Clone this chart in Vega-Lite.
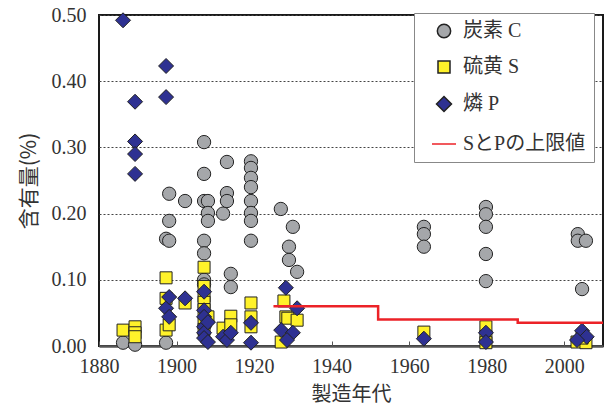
{
  "$schema": "https://vega.github.io/schema/vega-lite/v6.json",
  "width": 504,
  "height": 331,
  "autosize": {"type": "none"},
  "padding": {"left": 99, "top": 15, "right": 3, "bottom": 61},
  "background": "white",
  "config": {
    "view": {"stroke": "#1a1a1a", "strokeWidth": 2},
    "font": "Liberation Serif, Noto Sans CJK JP"
  },
  "datasets": {
    "points": [
      {"year": 1886.2, "value": 0.005, "series": "炭素 C"},
      {"year": 1889.3, "value": 0.002, "series": "炭素 C"},
      {"year": 1897.3, "value": 0.162, "series": "炭素 C"},
      {"year": 1897.3, "value": 0.005, "series": "炭素 C"},
      {"year": 1898.1, "value": 0.230, "series": "炭素 C"},
      {"year": 1898.1, "value": 0.189, "series": "炭素 C"},
      {"year": 1898.1, "value": 0.159, "series": "炭素 C"},
      {"year": 1902.2, "value": 0.219, "series": "炭素 C"},
      {"year": 1907.1, "value": 0.308, "series": "炭素 C"},
      {"year": 1907.1, "value": 0.260, "series": "炭素 C"},
      {"year": 1907.1, "value": 0.219, "series": "炭素 C"},
      {"year": 1907.1, "value": 0.159, "series": "炭素 C"},
      {"year": 1907.1, "value": 0.140, "series": "炭素 C"},
      {"year": 1907.1, "value": 0.100, "series": "炭素 C"},
      {"year": 1907.1, "value": 0.093, "series": "炭素 C"},
      {"year": 1908.1, "value": 0.219, "series": "炭素 C"},
      {"year": 1908.1, "value": 0.201, "series": "炭素 C"},
      {"year": 1908.1, "value": 0.189, "series": "炭素 C"},
      {"year": 1912.0, "value": 0.200, "series": "炭素 C"},
      {"year": 1913.0, "value": 0.278, "series": "炭素 C"},
      {"year": 1913.0, "value": 0.231, "series": "炭素 C"},
      {"year": 1913.0, "value": 0.219, "series": "炭素 C"},
      {"year": 1914.0, "value": 0.109, "series": "炭素 C"},
      {"year": 1914.0, "value": 0.089, "series": "炭素 C"},
      {"year": 1919.2, "value": 0.279, "series": "炭素 C"},
      {"year": 1919.2, "value": 0.269, "series": "炭素 C"},
      {"year": 1919.2, "value": 0.254, "series": "炭素 C"},
      {"year": 1919.2, "value": 0.240, "series": "炭素 C"},
      {"year": 1919.2, "value": 0.219, "series": "炭素 C"},
      {"year": 1919.2, "value": 0.201, "series": "炭素 C"},
      {"year": 1919.2, "value": 0.189, "series": "炭素 C"},
      {"year": 1919.2, "value": 0.159, "series": "炭素 C"},
      {"year": 1926.9, "value": 0.207, "series": "炭素 C"},
      {"year": 1930.0, "value": 0.180, "series": "炭素 C"},
      {"year": 1929.0, "value": 0.150, "series": "炭素 C"},
      {"year": 1929.0, "value": 0.130, "series": "炭素 C"},
      {"year": 1931.1, "value": 0.112, "series": "炭素 C"},
      {"year": 1963.8, "value": 0.180, "series": "炭素 C"},
      {"year": 1963.8, "value": 0.169, "series": "炭素 C"},
      {"year": 1963.8, "value": 0.150, "series": "炭素 C"},
      {"year": 1979.8, "value": 0.210, "series": "炭素 C"},
      {"year": 1979.8, "value": 0.199, "series": "炭素 C"},
      {"year": 1979.8, "value": 0.180, "series": "炭素 C"},
      {"year": 1979.8, "value": 0.139, "series": "炭素 C"},
      {"year": 1979.8, "value": 0.098, "series": "炭素 C"},
      {"year": 2003.5, "value": 0.169, "series": "炭素 C"},
      {"year": 2003.5, "value": 0.159, "series": "炭素 C"},
      {"year": 2005.6, "value": 0.159, "series": "炭素 C"},
      {"year": 2004.6, "value": 0.086, "series": "炭素 C"},
      {"year": 1886.2, "value": 0.024, "series": "硫黄 S"},
      {"year": 1889.3, "value": 0.029, "series": "硫黄 S"},
      {"year": 1889.3, "value": 0.020, "series": "硫黄 S"},
      {"year": 1889.3, "value": 0.014, "series": "硫黄 S"},
      {"year": 1897.3, "value": 0.103, "series": "硫黄 S"},
      {"year": 1897.3, "value": 0.072, "series": "硫黄 S"},
      {"year": 1897.3, "value": 0.024, "series": "硫黄 S"},
      {"year": 1898.1, "value": 0.032, "series": "硫黄 S"},
      {"year": 1902.2, "value": 0.065, "series": "硫黄 S"},
      {"year": 1907.1, "value": 0.119, "series": "硫黄 S"},
      {"year": 1907.1, "value": 0.090, "series": "硫黄 S"},
      {"year": 1907.1, "value": 0.075, "series": "硫黄 S"},
      {"year": 1907.1, "value": 0.066, "series": "硫黄 S"},
      {"year": 1907.1, "value": 0.055, "series": "硫黄 S"},
      {"year": 1907.1, "value": 0.035, "series": "硫黄 S"},
      {"year": 1907.1, "value": 0.025, "series": "硫黄 S"},
      {"year": 1908.1, "value": 0.044, "series": "硫黄 S"},
      {"year": 1912.0, "value": 0.027, "series": "硫黄 S"},
      {"year": 1914.0, "value": 0.045, "series": "硫黄 S"},
      {"year": 1914.0, "value": 0.032, "series": "硫黄 S"},
      {"year": 1919.2, "value": 0.065, "series": "硫黄 S"},
      {"year": 1919.2, "value": 0.044, "series": "硫黄 S"},
      {"year": 1919.2, "value": 0.029, "series": "硫黄 S"},
      {"year": 1927.7, "value": 0.068, "series": "硫黄 S"},
      {"year": 1928.2, "value": 0.044, "series": "硫黄 S"},
      {"year": 1928.7, "value": 0.042, "series": "硫黄 S"},
      {"year": 1931.1, "value": 0.039, "series": "硫黄 S"},
      {"year": 1927.0, "value": 0.006, "series": "硫黄 S"},
      {"year": 1963.8, "value": 0.021, "series": "硫黄 S"},
      {"year": 1979.8, "value": 0.029, "series": "硫黄 S"},
      {"year": 1979.8, "value": 0.014, "series": "硫黄 S"},
      {"year": 1979.8, "value": 0.005, "series": "硫黄 S"},
      {"year": 2003.3, "value": 0.006, "series": "硫黄 S"},
      {"year": 2005.6, "value": 0.005, "series": "硫黄 S"},
      {"year": 2004.6, "value": 0.012, "series": "硫黄 S"},
      {"year": 1886.2, "value": 0.492, "series": "燐 P"},
      {"year": 1889.3, "value": 0.369, "series": "燐 P"},
      {"year": 1889.3, "value": 0.309, "series": "燐 P"},
      {"year": 1889.3, "value": 0.290, "series": "燐 P"},
      {"year": 1889.3, "value": 0.260, "series": "燐 P"},
      {"year": 1897.3, "value": 0.423, "series": "燐 P"},
      {"year": 1897.3, "value": 0.376, "series": "燐 P"},
      {"year": 1897.3, "value": 0.057, "series": "燐 P"},
      {"year": 1898.1, "value": 0.074, "series": "燐 P"},
      {"year": 1898.1, "value": 0.044, "series": "燐 P"},
      {"year": 1902.2, "value": 0.072, "series": "燐 P"},
      {"year": 1907.1, "value": 0.082, "series": "燐 P"},
      {"year": 1907.1, "value": 0.054, "series": "燐 P"},
      {"year": 1907.1, "value": 0.044, "series": "燐 P"},
      {"year": 1907.1, "value": 0.029, "series": "燐 P"},
      {"year": 1907.1, "value": 0.020, "series": "燐 P"},
      {"year": 1907.1, "value": 0.012, "series": "燐 P"},
      {"year": 1908.1, "value": 0.036, "series": "燐 P"},
      {"year": 1908.1, "value": 0.006, "series": "燐 P"},
      {"year": 1912.0, "value": 0.014, "series": "燐 P"},
      {"year": 1913.0, "value": 0.009, "series": "燐 P"},
      {"year": 1914.0, "value": 0.020, "series": "燐 P"},
      {"year": 1919.2, "value": 0.035, "series": "燐 P"},
      {"year": 1919.2, "value": 0.005, "series": "燐 P"},
      {"year": 1928.2, "value": 0.088, "series": "燐 P"},
      {"year": 1931.1, "value": 0.057, "series": "燐 P"},
      {"year": 1927.0, "value": 0.024, "series": "燐 P"},
      {"year": 1930.0, "value": 0.020, "series": "燐 P"},
      {"year": 1928.5, "value": 0.009, "series": "燐 P"},
      {"year": 1963.8, "value": 0.011, "series": "燐 P"},
      {"year": 1979.8, "value": 0.020, "series": "燐 P"},
      {"year": 1979.8, "value": 0.006, "series": "燐 P"},
      {"year": 2004.6, "value": 0.023, "series": "燐 P"},
      {"year": 2005.8, "value": 0.014, "series": "燐 P"},
      {"year": 2003.3, "value": 0.009, "series": "燐 P"}
    ],
    "limit": [
      {"year": 1925, "value": 0.06},
      {"year": 1952, "value": 0.04},
      {"year": 1988, "value": 0.035},
      {"year": 2010, "value": 0.035}
    ]
  },
  "layer": [
    {
      "data": {"name": "points"},
      "mark": {"type": "point", "filled": true, "opacity": 1},
      "encoding": {
        "x": {
          "field": "year", "type": "quantitative",
          "scale": {"domain": [1880, 2010], "nice": false, "zero": false},
          "axis": {
            "title": "製造年代", "values": [1880, 1900, 1920, 1940, 1960, 1980, 2000],
            "format": "d", "grid": false, "tickSize": -5, "tickColor": "#555",
            "labelFontSize": 20, "labelPadding": 15, "labelFlush": false, "labelColor": "#333",
            "domainColor": "#555", "domainWidth": 2.5,
            "titleFontSize": 20, "titleFont": "Noto Sans CJK JP", "titleFontWeight": "normal",
            "titleColor": "#333", "titlePadding": 8
          }
        },
        "y": {
          "field": "value", "type": "quantitative",
          "scale": {"domain": [0, 0.5], "nice": false},
          "axis": {
            "title": "含有量(%)", "values": [0, 0.1, 0.2, 0.3, 0.4, 0.5], "format": ".2f",
            "grid": true, "gridDash": [2, 2], "gridColor": "#444", "gridWidth": 1,
            "ticks": false, "domain": false,
            "labelFontSize": 20, "labelPadding": 13, "labelFlush": false, "labelColor": "#333",
            "titleFontSize": 21, "titleFont": "Noto Sans CJK JP", "titleFontWeight": "normal",
            "titleColor": "#333", "titlePadding": 12
          }
        },
        "color": {
          "field": "series", "type": "nominal",
          "scale": {"domain": ["炭素 C", "硫黄 S", "燐 P", "SとPの上限値"], "range": ["#a5a7aa", "#fff22a", "#2e3192", "#ec2227"]},
          "legend": {
            "orient": "none", "legendX": 315, "legendY": -2, "title": null,
            "padding": 8, "strokeColor": "#888", "fillColor": "white",
            "labelFontSize": 20, "labelFont": "Liberation Serif, Noto Sans CJK JP", "labelColor": "#333",
            "rowPadding": 16, "symbolOffset": 9, "labelOffset": 6
          }
        },
        "shape": {
          "field": "series", "type": "nominal",
          "scale": {"domain": ["炭素 C", "硫黄 S", "燐 P", "SとPの上限値"], "range": ["circle", "square", "diamond", "stroke"]}
        },
        "size": {
          "field": "series", "type": "nominal",
          "scale": {"type": "ordinal", "domain": ["炭素 C", "硫黄 S", "燐 P", "SとPの上限値"], "range": [177, 144, 225, 576]}
        },
        "stroke": {
          "field": "series", "type": "nominal",
          "scale": {"domain": ["炭素 C", "硫黄 S", "燐 P", "SとPの上限値"], "range": ["#222222", "#222222", "#222222", "#ec2227"]}
        },
        "strokeWidth": {
          "field": "series", "type": "nominal",
          "scale": {"type": "ordinal", "domain": ["炭素 C", "硫黄 S", "燐 P", "SとPの上限値"], "range": [1, 1, 1, 2.5]}
        }
      }
    },
    {
      "data": {"name": "limit"},
      "mark": {"type": "line", "interpolate": "step-after"},
      "encoding": {
        "x": {"field": "year", "type": "quantitative"},
        "y": {"field": "value", "type": "quantitative"},
        "stroke": {"datum": "SとPの上限値"},
        "strokeWidth": {"datum": "SとPの上限値"}
      }
    }
  ]
}
